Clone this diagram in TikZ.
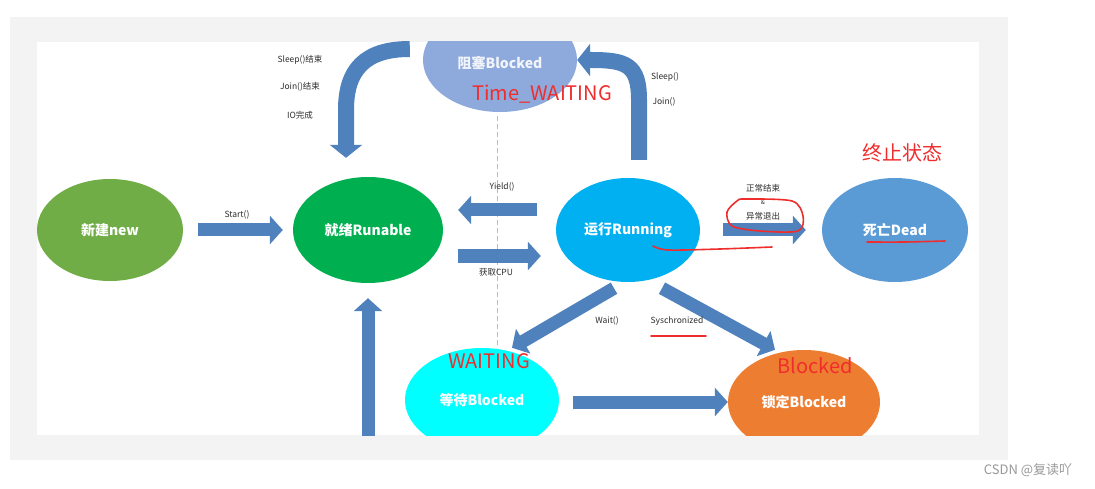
\documentclass[tikz,border=0pt]{standalone}
\usepackage{fontspec}
\setmainfont{Noto Sans CJK SC}
\usetikzlibrary{shapes.geometric,arrows.meta}
\definecolor{panelgray}{RGB}{243,243,243}
\definecolor{newgreen}{RGB}{112,173,71}
\definecolor{readygreen}{RGB}{0,176,80}
\definecolor{runblue}{RGB}{0,176,240}
\definecolor{deadblue}{RGB}{91,155,213}
\definecolor{blockedblue}{RGB}{142,169,219}
\definecolor{waitcyan}{RGB}{0,255,255}
\definecolor{lockorange}{RGB}{237,125,49}
\definecolor{arrowblue}{RGB}{79,129,189}
\definecolor{labelgray}{RGB}{45,45,45}
\definecolor{notered}{RGB}{240,45,45}

\begin{document}
\begin{tikzpicture}[x=1pt,y=1pt,
  state/.style={ellipse,inner sep=0pt,text=white,font=\fontsize{14}{16}\selectfont\bfseries},
  lbl/.style={font=\fontsize{8.5}{9}\selectfont,text=labelgray,inner sep=1pt},
  note/.style={font=\fontsize{20}{22}\selectfont,text=notered,inner sep=0pt},
  blockarrow/.style={draw=arrowblue,line width=13pt,-{Triangle[length=13pt,width=28pt]}},
  bendarrow/.style={draw=arrowblue,line width=16pt,-{Triangle[length=13pt,width=32pt]}},
  scribble/.style={draw=notered,line width=1.6pt,line cap=round,line join=round}]
\useasboundingbox (0,0) rectangle (1095,488);
\fill[white] (0,0) rectangle (1095,488);
\fill[panelgray] (10,28) rectangle (1008,471);
\fill[white] (37,53) rectangle (979,446);
\begin{scope}
\clip (37,53) rectangle (979,446);
\node[state,fill=newgreen,minimum width=146pt,minimum height=102pt] (new) at (110,258) {新建new};
\node[state,fill=readygreen,minimum width=150pt,minimum height=106pt] (ready) at (368,258) {就绪Runable};
\node[state,fill=runblue,minimum width=144pt,minimum height=104pt] (run) at (628,258) {运行Running};
\node[state,fill=deadblue,minimum width=146pt,minimum height=104pt] (dead) at (895,258) {死亡Dead};
\node[state,fill=blockedblue,text=white!88!blockedblue,minimum width=154pt,minimum height=104pt] (blocked) at (500,428) {\raisebox{-9pt}[0pt][0pt]{阻塞Blocked}};
\node[state,fill=waitcyan,minimum width=154pt,minimum height=104pt] (wait) at (482,88) {等待Blocked};
\node[state,fill=lockorange,minimum width=152pt,minimum height=104pt] (lock) at (804,86) {锁定Blocked};
\coordinate (dtop) at ([xshift=-3pt,yshift=-4pt]blocked.south);
\draw[gray!55,line width=.7pt,dash pattern=on 5pt off 3pt] (dtop) -- (dtop |- wait.north);
\draw[blockarrow] ([xshift=15pt]new.east) -- ([xshift=-10pt]ready.west);
\draw[blockarrow] ([xshift=-19pt,yshift=20pt]run.west) -- ([xshift=15pt,yshift=20pt]ready.east);
\draw[blockarrow] ([xshift=15pt,yshift=-26pt]ready.east) -- ([xshift=-15pt,yshift=-26pt]run.west);
\draw[blockarrow] ([xshift=23pt]run.east) -- ([xshift=-16pt]dead.west);
\draw[blockarrow] ([yshift=-165pt]ready.south) -- ([yshift=-15pt]ready.south);
\draw[blockarrow] ([xshift=-14pt,yshift=-6pt]run.south) -- ([xshift=30pt]wait.north);
\draw[blockarrow] ([xshift=34pt,yshift=-6pt]run.south) -- ([xshift=-29pt]lock.north);
\draw[blockarrow] ([xshift=14pt,yshift=-2pt]wait.east) -- (lock.west);
\coordinate (sleepfrom) at ([xshift=-13pt,yshift=11pt]blocked.west);
\coordinate (sleepto) at ([xshift=-22pt,yshift=19pt]ready.north);
\draw[bendarrow] (sleepfrom) .. controls +(-45,0) and +(0,40) .. ([yshift=48pt]sleepto) -- (sleepto);
\coordinate (runup) at ([xshift=11pt,yshift=18pt]run.north);
\draw[bendarrow] (runup) -- ([yshift=60pt]runup) .. controls +(0,35) and +(35,0) .. ([xshift=14pt]blocked.east) -- (blocked.east);
\end{scope}
\node[lbl] (lstart) at (237,273) {Start()};
\node[lbl] (lyield) at (502,301) {Yield()};
\node[lbl] (lcpu) at (496,216) {获取CPU};
\node[lbl] (lend) at (763,300) {正常结束};
\node[lbl,font=\fontsize{6}{7}\selectfont] (land) at (763,286) {\&};
\node[lbl] (lexc) at (763,272) {异常退出};
\node[lbl] (lsleepend) at (300,428) {Sleep()结束};
\node[lbl] (ljoinend) at (300,401) {Join()结束};
\node[lbl] (lio) at (300,373) {IO完成};
\node[lbl] (lsleep) at (665,411) {Sleep()};
\node[lbl] (ljoin) at (664,386) {Join()};
\node[lbl] (lwait) at (607,167) {Wait()};
\node[lbl] (lsync) at (677,167) {Syschronized};
\node[note] (ntimed) at (542,394) {Time\_WAITING};
\node[note] (nterm) at (902,335) {终止状态};
\node[note] (nwaiting) at (489,127) {WAITING};
\node[note] (nblocked) at (815,122) {Blocked};
\draw[scribble] plot[smooth cycle] coordinates {(745,289) (792,287) (803,272) (798,257) (760,257) (732,262) (727,276) (737,287)};
\draw[scribble] plot[smooth] coordinates {(653,242) (668,238) (720,239) (772,241)};
\draw[scribble] plot[smooth] coordinates {(867,246) (905,246) (945,247)};
\draw[scribble] (651,152) -- (706,152);
\node[font=\fontsize{13}{15}\selectfont,text=gray!80] (mark) at (1028,18) {CSDN @复读吖};
\end{tikzpicture}
\end{document}
